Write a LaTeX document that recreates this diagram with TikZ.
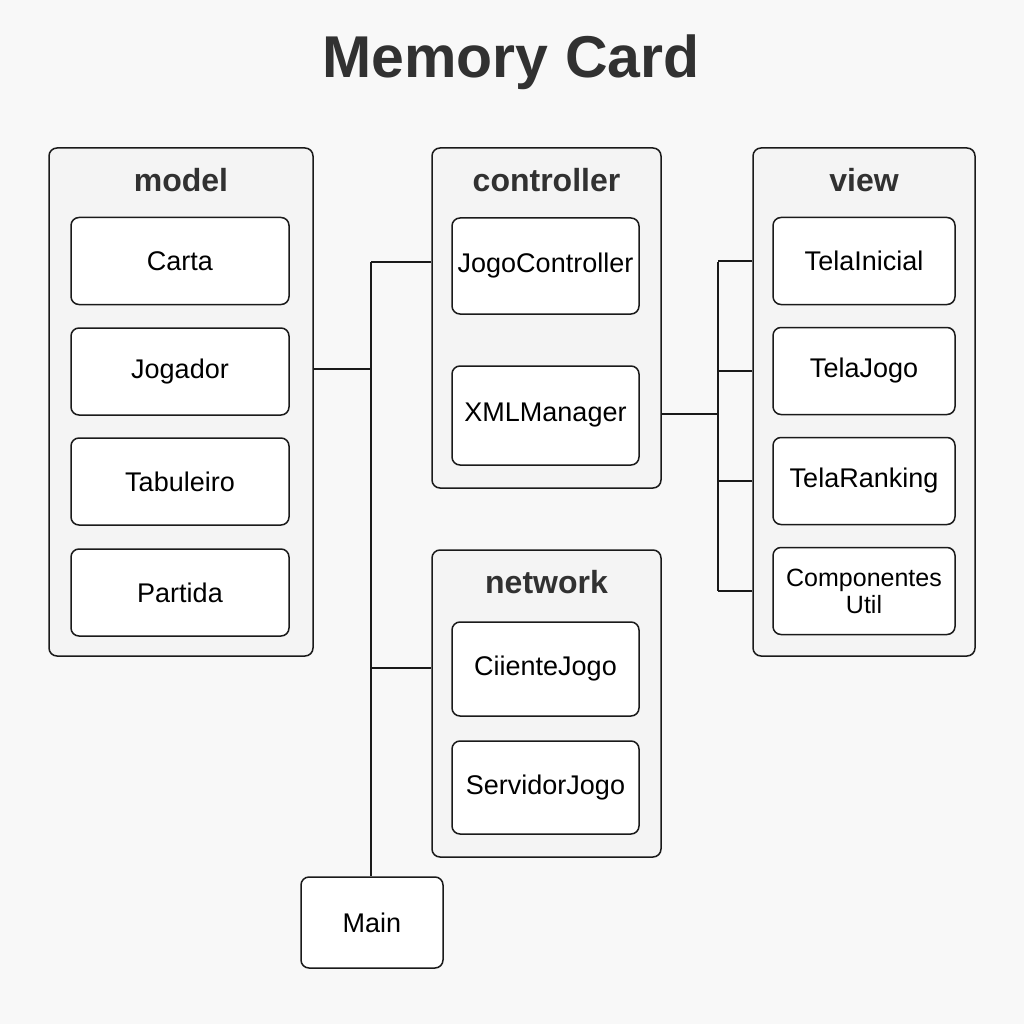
\documentclass[tikz,border=0pt]{standalone}
\usepackage{fontspec}
\setmainfont{Liberation Sans}
\definecolor{bgcol}{HTML}{F8F8F8}
\definecolor{pkgcol}{HTML}{F4F4F4}
\definecolor{inkcol}{HTML}{1A1A1A}
\tikzset{
    pkg/.style={draw=inkcol, line width=1.5pt, fill=pkgcol, rounded corners=8pt, inner sep=0pt},
    cls/.style={draw=inkcol, line width=1.5pt, fill=white, rounded corners=8pt, inner sep=0pt,
        font=\fontsize{27}{30}\selectfont},
    pkgname/.style={font=\bfseries\fontsize{32}{36}\selectfont, text=inkcol!90},
    wire/.style={draw=inkcol, line width=1.6pt}
}
\begin{document}
\begin{tikzpicture}[x=1pt, y=-1pt]
    \fill[bgcol](0, 0)rectangle(1024, 1024);
    \useasboundingbox(0, 0)rectangle(1024, 1024);
    \node[font=\bfseries\fontsize{59}{64}\selectfont, text=inkcol!90](title)at(511, 62){Memory Card};
    % packages
    \node[pkg, minimum width=264pt, minimum height=508pt](model)at(181, 402){};
    \node[pkg, minimum width=229pt, minimum height=340pt](ctrl)at(546.5, 318){};
    \node[pkg, minimum width=222pt, minimum height=508pt](view)at(864, 402){};
    \node[pkg, minimum width=229pt, minimum height=307pt](net)at(546.5, 703.5){};
    \node[pkgname]at(181, 180){model};
    \node[pkgname]at(546.5, 180){controller};
    \node[pkgname]at(864, 180){view};
    \node[pkgname]at(546.5, 582){network};
    % classes
    \node[cls, minimum width=218pt, minimum height=87pt](carta)at(180, 261){Carta};
    \node[cls, minimum width=218pt, minimum height=87pt](jogador)at(180, 371.5){Jogador};
    \node[cls, minimum width=218pt, minimum height=87pt](tab)at(180, 481.5){Tabuleiro};
    \node[cls, minimum width=218pt, minimum height=87pt](partida)at(180, 592.5){Partida};
    \node[cls, minimum width=187pt, minimum height=96pt](jctrl)at(545.5, 266){JogoController};
    \node[cls, minimum width=187pt, minimum height=99pt](xml)at(545.5, 415.5){XMLManager};
    \node[cls, minimum width=182pt, minimum height=87pt](ini)at(864, 261){TelaInicial};
    \node[cls, minimum width=182pt, minimum height=87pt](tjogo)at(864, 371){TelaJogo};
    \node[cls, minimum width=182pt, minimum height=87pt](rank)at(864, 481){TelaRanking};
    \node[cls, minimum width=182pt, minimum height=87pt, align=center,
        font=\fontsize{25}{27}\selectfont](comp)at(864, 591){Componentes\\Util};
    \node[cls, minimum width=187pt, minimum height=94pt](cli)at(545.5, 669){CiienteJogo};
    \node[cls, minimum width=187pt, minimum height=93pt](serv)at(545.5, 787.5){ServidorJogo};
    \node[cls, minimum width=142pt, minimum height=91pt](main)at(372, 922.5){Main};
    % connectors
    \coordinate(jT)at(371, 262);
    \coordinate(jM)at(371, 369);
    \coordinate(jN)at(371, 668);
    \coordinate(rT)at(718, 262);
    \coordinate(rM)at(718, 414);
    \coordinate(rB)at(718, 591);
    \draw[wire](jT)--(jT |- main.north);
    \draw[wire](model.east |- jM)--(jM);
    \draw[wire](jT)--(ctrl.west |- jT);
    \draw[wire](jN)--(net.west |- jN);
    \draw[wire](ctrl.east |- rM)--(rM);
    \draw[wire](rT)--(rB);
    \foreach \n in {ini, tjogo, rank, comp}
        \draw[wire](\n.west -| rT)--(view.west |- \n.west);
\end{tikzpicture}
\end{document}
